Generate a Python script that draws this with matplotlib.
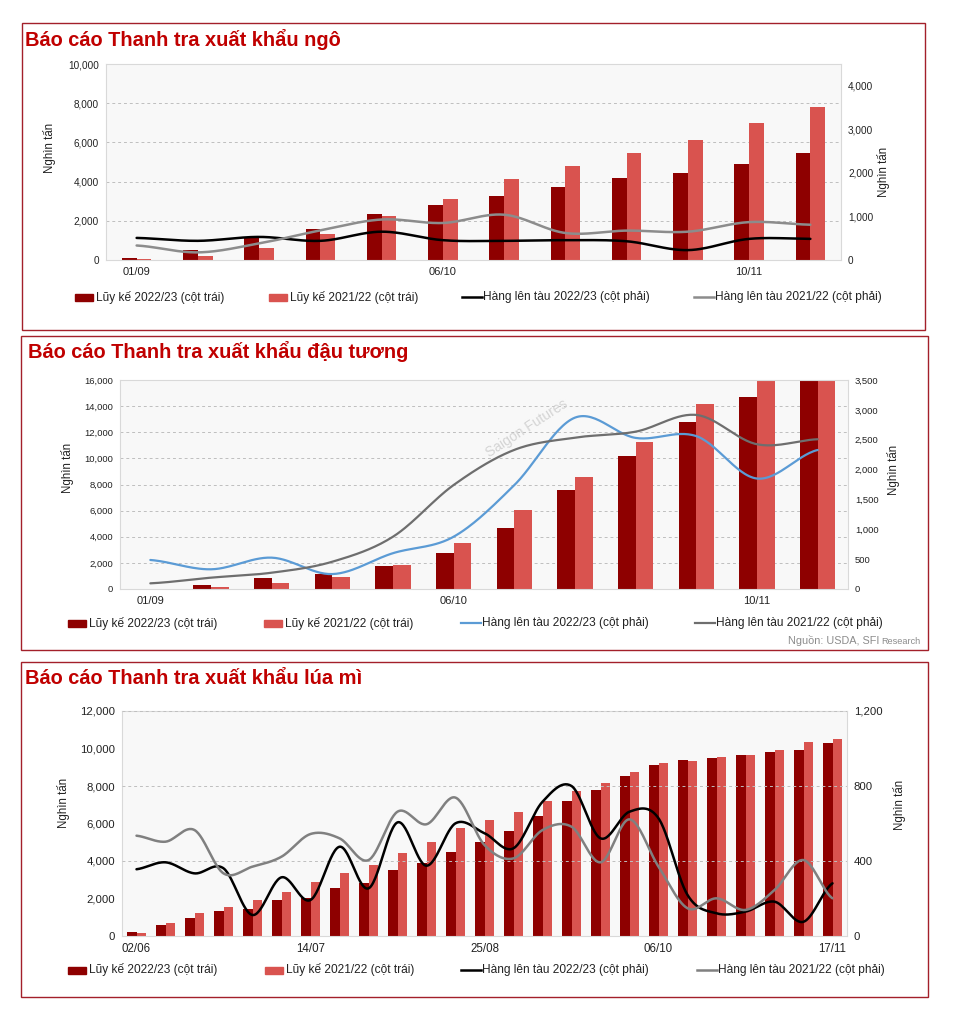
import numpy as np
import matplotlib
matplotlib.use("Agg")
import matplotlib.pyplot as plt
from matplotlib.patches import Rectangle
from matplotlib.lines import Line2D

plt.rcParams['font.family'] = ['Liberation Sans', 'DejaVu Sans']

# ---------------- DATA ----------------
# Corn (ngô)
corn_dates = ["01/09", "08/09", "15/09", "22/09", "29/09", "06/10",
              "13/10", "20/10", "27/10", "03/11", "10/11", "17/11"]
corn_cum_2223 = [100, 500, 1190, 1580, 2360, 2800, 3280, 3740, 4200, 4440, 4900, 5460]
corn_cum_2122 = [50, 200, 610, 1340, 2240, 3110, 4130, 4810, 5460, 6120, 6990, 7810]
corn_ship_2223 = [507, 440, 530, 440, 650, 455, 440, 455, 430, 227, 485, 485]
corn_ship_2122 = [333, 175, 380, 680, 930, 850, 1040, 620, 675, 650, 870, 810]
corn_tick_idx = [0, 5, 10]

# Soybeans (đậu tương)
soy_dates = corn_dates
soy_cum_2223 = [0, 300, 840, 1150, 1780, 2760, 4670, 7580, 10180, 12780, 14700, 17500]
soy_cum_2122 = [0, 130, 460, 920, 1840, 3520, 6050, 8570, 11250, 14160, 17000, 18500]
soy_ship_2223 = [486, 330, 525, 250, 600, 876, 1740, 2870, 2530, 2560, 1850, 2328]
soy_ship_2122 = [95, 190, 273, 457, 876, 1742, 2330, 2535, 2635, 2915, 2424, 2508]
soy_tick_idx = [0, 5, 10]

# Wheat (lúa mì)
wheat_dates = ["02/06", "09/06", "16/06", "23/06", "30/06", "07/07", "14/07",
               "21/07", "28/07", "04/08", "11/08", "18/08", "25/08", "01/09",
               "08/09", "15/09", "22/09", "29/09", "06/10", "13/10", "20/10",
               "27/10", "03/11", "10/11", "17/11"]
wheat_cum_2223 = [213, 587, 978, 1333, 1450, 1930, 2050, 2560, 2844, 3520, 3910, 4498,
                  5030, 5600, 6400, 7200, 7787, 8533, 9120, 9387, 9510, 9653, 9813,
                  9920, 10293]
wheat_cum_2122 = [142, 693, 1227, 1547, 1938, 2365, 2880, 3360, 3787, 4444, 5013, 5760,
                  6187, 6613, 7200, 7750, 8160, 8747, 9210, 9333, 9547, 9635, 9920,
                  10347, 10507]
wheat_ship_2223 = [356, 393, 334, 361, 112, 313, 192, 476, 254, 606, 375, 601,
                   548, 468, 716, 800, 521, 663, 628, 219, 121, 130, 183, 76, 281]
wheat_ship_2122 = [535, 503, 565, 334, 370, 423, 544, 521, 405, 663, 596, 738,
                   485, 414, 565, 583, 393, 622, 370, 148, 201, 139, 245, 405, 201]
wheat_tick_idx = [0, 6, 12, 18, 24]

# ---------------- STYLE ----------------
W, H = 976, 1024
DARK = '#8E0000'
LIGHT = '#D9534F'
TITLE_C = '#C00000'
BOX_C = '#A3202A'
TXT = '#222222'

fig = plt.figure(figsize=(W / 100, H / 100), dpi=100)


def fx(x):
    return x / W


def fy(y):
    return 1 - y / H


def smooth(vals, n=30):
    y = np.asarray(vals, float)
    p = np.concatenate([[y[0]], y, [y[-1]]])
    xs, ys = [], []
    t = np.linspace(0, 1, n, endpoint=False)
    for i in range(len(y) - 1):
        p0, p1, p2, p3 = p[i], p[i + 1], p[i + 2], p[i + 3]
        ys.append(0.5 * (2 * p1 + (-p0 + p2) * t + (2 * p0 - 5 * p1 + 4 * p2 - p3) * t ** 2
                         + (-p0 + 3 * p1 - 3 * p2 + p3) * t ** 3))
        xs.append(i + t)
    xs.append([len(y) - 1])
    ys.append([y[-1]])
    return np.concatenate(xs), np.concatenate(ys)


def panel(box, title, title_xy, rect, dates, tick_idx, cum1, cum2, ship1, ship2,
          lylim, lticks, rylim, rticks, bar_w, tick_fs, xt_fs, grid_on_right,
          c1, c2, lw, left_lab, right_lab, legend_y, legend_x, line_colors):
    # panel border
    bx0, by0, bx1, by1 = box
    fig.patches.append(Rectangle((fx(bx0), fy(by1)), fx(bx1) - fx(bx0), fy(by0) - fy(by1),
                                 transform=fig.transFigure, fill=False,
                                 edgecolor=BOX_C, linewidth=1.0))
    fig.text(fx(title_xy[0]), fy(title_xy[1]), title, color=TITLE_C, fontsize=14.4,
             fontweight='bold', ha='left', va='center')
    l, t, r, b = rect
    ax = fig.add_axes([fx(l), fy(b), fx(r) - fx(l), fy(t) - fy(b)])
    ax2 = ax.twinx()
    n = len(dates)
    x = np.arange(n)
    ax.bar(x - bar_w / 2, cum1, width=bar_w, color=DARK, zorder=2)
    ax.bar(x + bar_w / 2, cum2, width=bar_w, color=LIGHT, zorder=2)
    ax.set_xlim(-0.5, n - 0.5)
    ax.set_ylim(*lylim)
    ax.set_yticks(lticks)
    ax.set_yticklabels([f"{v:,.0f}" for v in lticks])
    ax.set_xticks(tick_idx)
    ax.set_xticklabels([dates[i] for i in tick_idx])
    ax.set_facecolor('#F8F8F8')
    for s in ax.spines.values():
        s.set_color('#D9D9D9')
        s.set_linewidth(0.8)
    ax.tick_params(axis='both', length=0, colors=TXT)
    ax.tick_params(axis='y', labelsize=tick_fs, pad=5)
    ax.tick_params(axis='x', labelsize=xt_fs, pad=5)

    sx, sy = smooth(ship1)
    ax2.plot(sx, sy, color=c1, lw=lw, zorder=3, solid_capstyle='round')
    sx, sy = smooth(ship2)
    ax2.plot(sx, sy, color=c2, lw=lw, zorder=3, solid_capstyle='round')
    ax2.set_ylim(*rylim)
    ax2.set_yticks(rticks)
    ax2.set_yticklabels([f"{v:,.0f}" for v in rticks])
    ax2.tick_params(axis='y', length=0, labelsize=tick_fs, pad=5, colors=TXT)
    for s in ax2.spines.values():
        s.set_visible(False)
    if grid_on_right:
        ax2.yaxis.grid(True, color='#BFBFBF', linestyle=(0, (3, 3)), linewidth=0.7)
        ax2.set_axisbelow(True)
    else:
        ax.yaxis.grid(True, color='#BFBFBF', linestyle=(0, (3, 3)), linewidth=0.7, zorder=0)
        ax.set_axisbelow(True)

    # axis titles
    fig.text(fx(left_lab[0]), fy(left_lab[1]), "Nghìn tấn", rotation=90, fontsize=8.3,
             color=TXT, ha='center', va='center')
    fig.text(fx(right_lab[0]), fy(right_lab[1]), "Nghìn tấn", rotation=90, fontsize=8.3,
             color=TXT, ha='center', va='center')

    # legend
    labels = ["Lũy kế 2022/23 (cột trái)", "Lũy kế 2021/22 (cột trái)",
              "Hàng lên tàu 2022/23 (cột phải)", "Hàng lên tàu 2021/22 (cột phải)"]
    for k, lx in enumerate(legend_x):
        if k < 2:
            fig.patches.append(Rectangle((fx(lx), fy(legend_y + 3.5)), 18 / W, 7 / H,
                                         transform=fig.transFigure,
                                         color=[DARK, LIGHT][k]))
        else:
            fig.lines.append(Line2D([fx(lx), fx(lx + 20)], [fy(legend_y), fy(legend_y)],
                                    transform=fig.transFigure, color=line_colors[k - 2],
                                    lw=lw))
        fig.text(fx(lx + 21), fy(legend_y), labels[k], fontsize=8.6, color=TXT,
                 ha='left', va='center')
    return ax, ax2


# Panel 1: corn
panel(box=(22, 23, 925, 330), title="Báo cáo Thanh tra xuất khẩu ngô", title_xy=(25, 40),
      rect=(106, 64, 841, 260), dates=corn_dates, tick_idx=corn_tick_idx,
      cum1=corn_cum_2223, cum2=corn_cum_2122, ship1=corn_ship_2223, ship2=corn_ship_2122,
      lylim=(0, 10000), lticks=list(range(0, 10001, 2000)),
      rylim=(0, 4500), rticks=list(range(0, 4001, 1000)),
      bar_w=0.24, tick_fs=7.2, xt_fs=8, grid_on_right=False,
      c1='#000000', c2='#8C8C8C', lw=1.8,
      left_lab=(50, 148), right_lab=(883, 172), legend_y=297,
      legend_x=(75, 269, 462, 694), line_colors=('#000000', '#8C8C8C'))

# Panel 2: soybeans
ax, ax2 = panel(box=(21, 336, 928, 650), title="Báo cáo Thanh tra xuất khẩu đậu tương",
                title_xy=(28, 351),
                rect=(120, 380, 848, 589), dates=soy_dates, tick_idx=soy_tick_idx,
                cum1=soy_cum_2223, cum2=soy_cum_2122, ship1=soy_ship_2223,
                ship2=soy_ship_2122,
                lylim=(0, 16000), lticks=list(range(0, 16001, 2000)),
                rylim=(0, 3500), rticks=list(range(0, 3501, 500)),
                bar_w=0.29, tick_fs=6.8, xt_fs=8, grid_on_right=False,
                c1='#5B9BD5', c2='#6E6E6E', lw=1.6,
                left_lab=(68, 468), right_lab=(893, 470), legend_y=623,
                legend_x=(68, 264, 461, 695), line_colors=('#5B9BD5', '#6E6E6E'))
ax.text(fx(527), fy(428), "Saigon Futures", rotation=33, fontsize=10, color='#D4D4D4',
        ha='center', va='center', zorder=1.5, transform=fig.transFigure, clip_on=False)

# Source note
fig.canvas.draw()
rend = fig.canvas.get_renderer()
t_res = fig.text(fx(921), fy(641), "Research", fontsize=6.6, color='#8C8C8C',
                 ha='right', va='center')
bb = t_res.get_window_extent(renderer=rend)
fig.text(bb.x0 / W - 2 / W, fy(641), "Nguồn: USDA, SFI", fontsize=7.8, color='#8C8C8C',
         ha='right', va='center')

# Panel 3: wheat
panel(box=(21, 662, 928, 997), title="Báo cáo Thanh tra xuất khẩu lúa mì", title_xy=(25, 678),
      rect=(122, 711, 847, 936), dates=wheat_dates, tick_idx=wheat_tick_idx,
      cum1=wheat_cum_2223, cum2=wheat_cum_2122, ship1=wheat_ship_2223,
      ship2=wheat_ship_2122,
      lylim=(0, 12000), lticks=list(range(0, 12001, 2000)),
      rylim=(0, 1200), rticks=list(range(0, 1201, 400)),
      bar_w=0.32, tick_fs=8.2, xt_fs=8.3, grid_on_right=True,
      c1='#000000', c2='#808080', lw=1.8,
      left_lab=(63, 803), right_lab=(899, 805), legend_y=970,
      legend_x=(68, 265, 461, 697), line_colors=('#000000', '#808080'))

fig.savefig("out.png", dpi=100)
